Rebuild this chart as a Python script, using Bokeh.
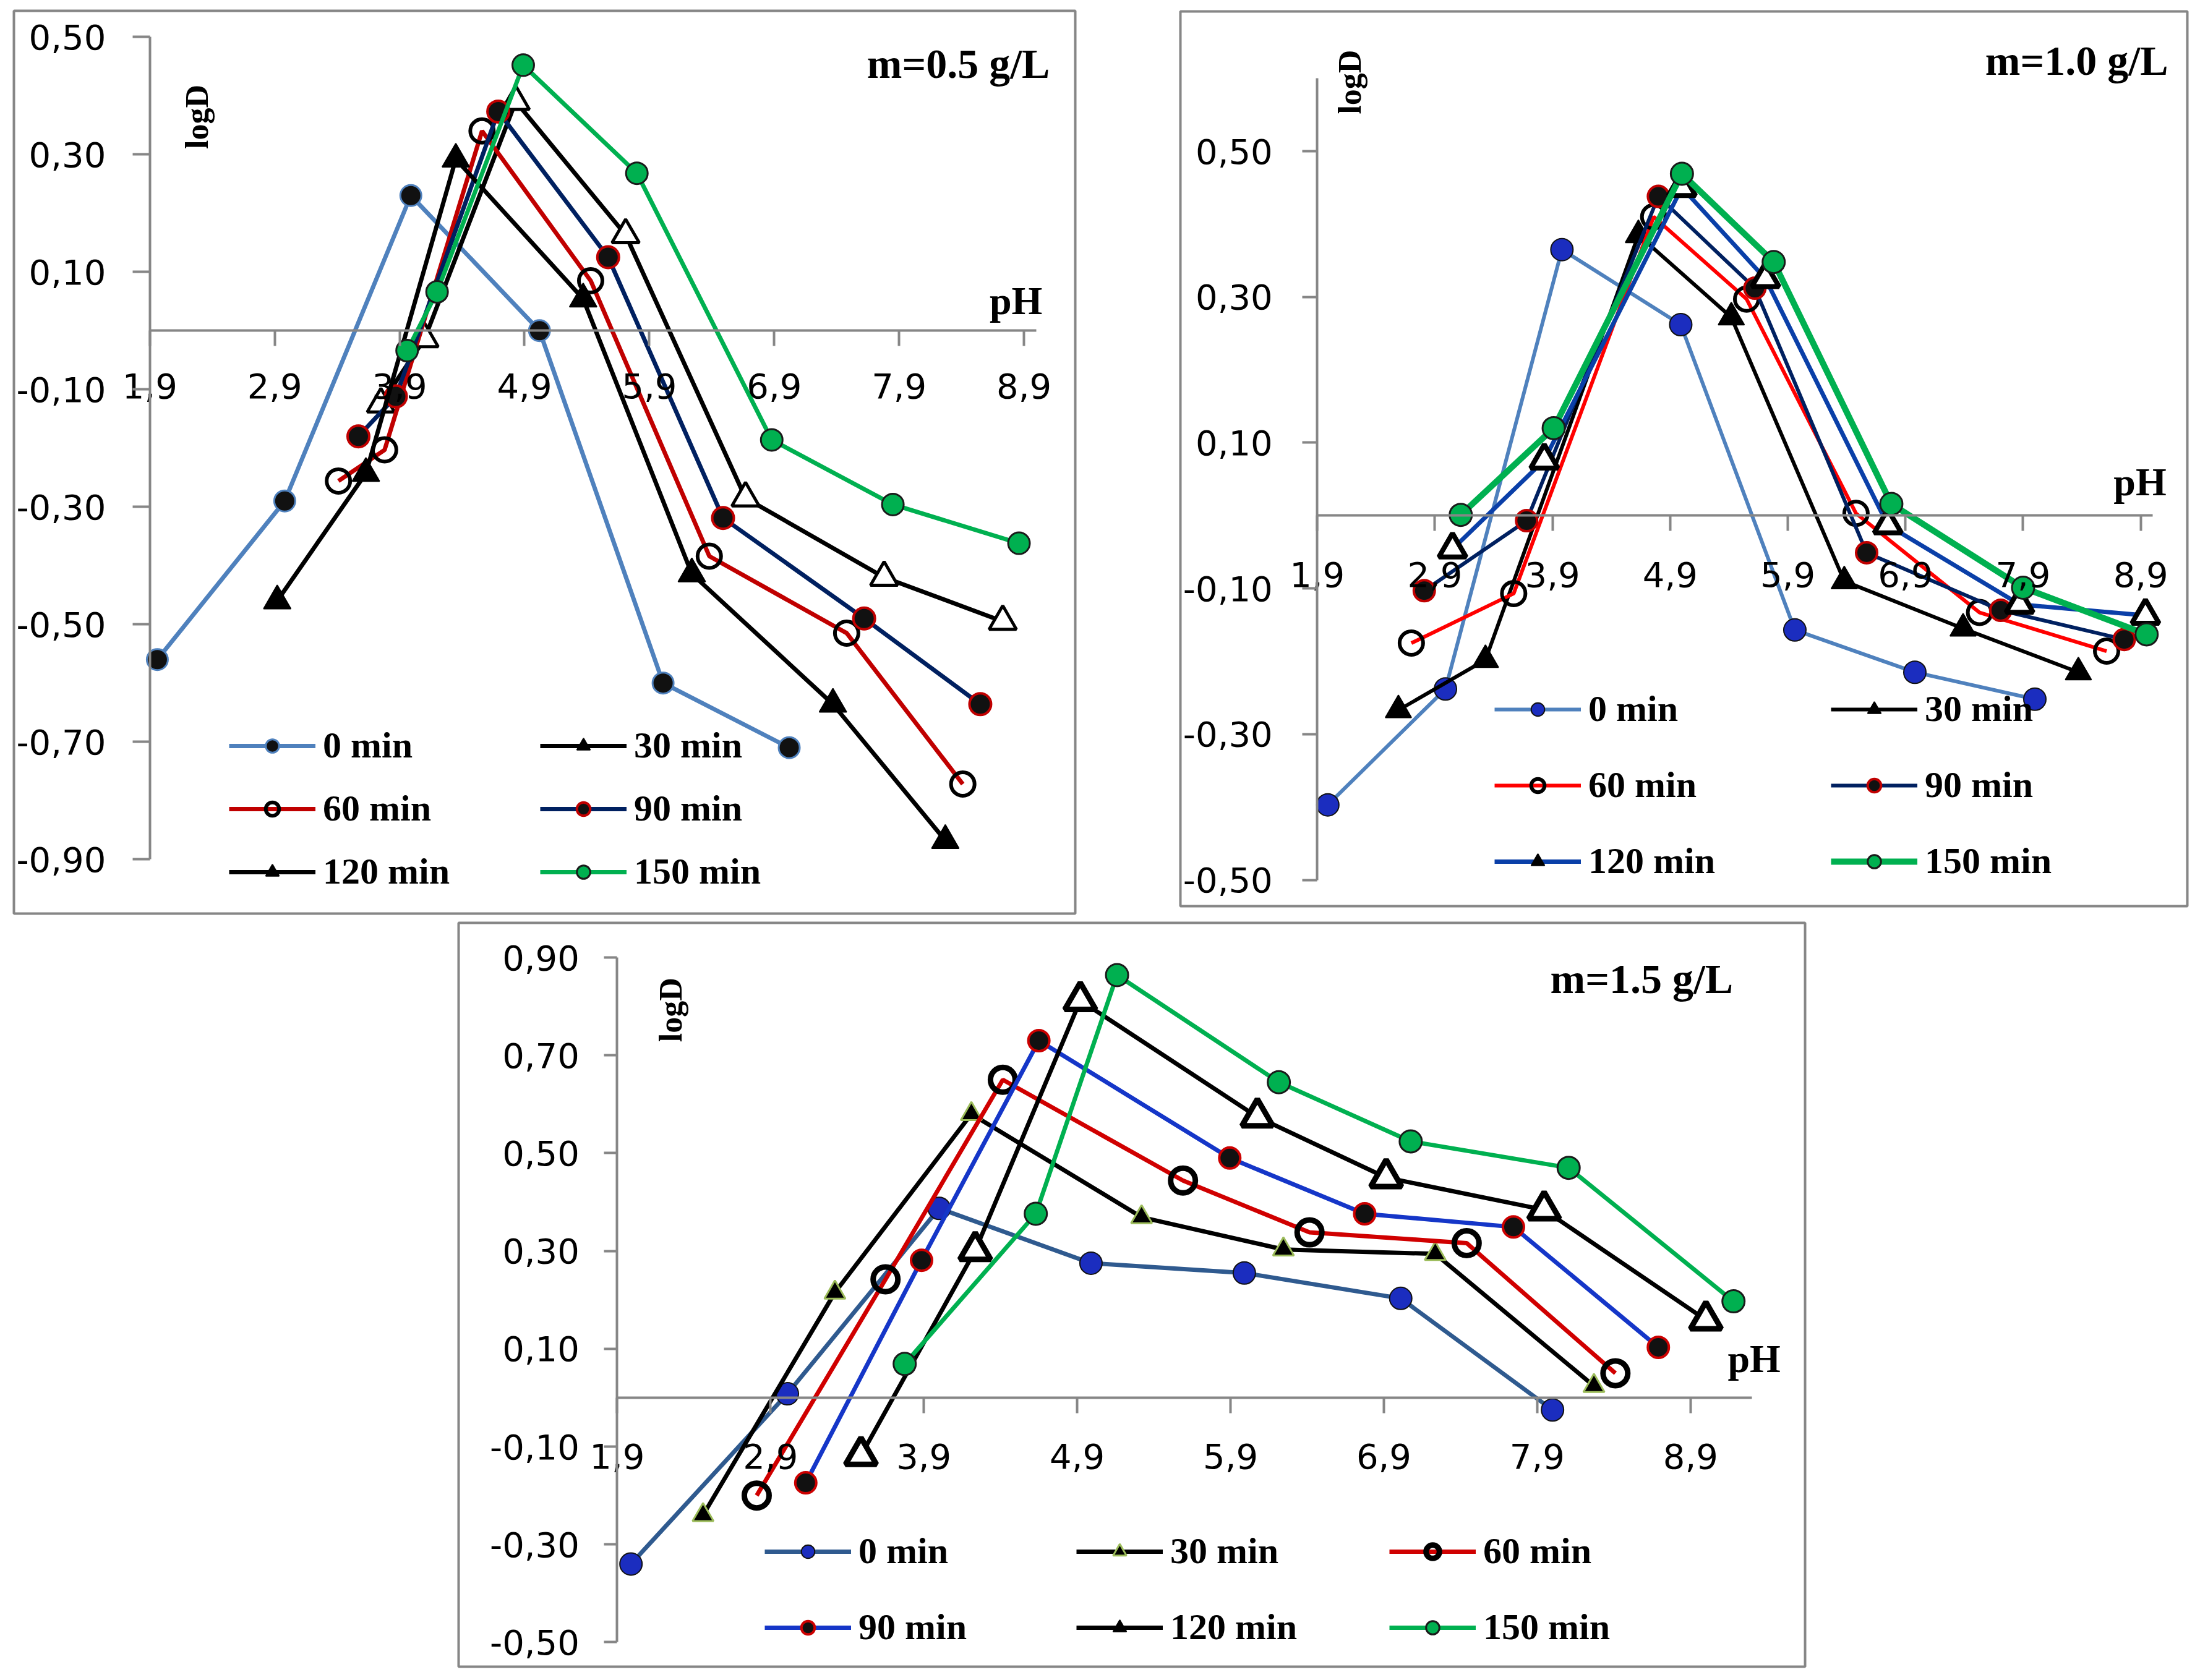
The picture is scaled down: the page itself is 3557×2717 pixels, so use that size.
from bokeh.plotting import figure
from bokeh.models import (Range1d, FixedTicker, CustomJSTickFormatter, Legend,
                          LegendItem, Label, Spacer)
from bokeh.layouts import row, column
from bokeh.embed import file_html
from bokeh.resources import INLINE
import math

# ---------------- data ----------------
times = ["0 min", "30 min", "60 min", "90 min", "120 min", "150 min"]
x_ticks = [1.9, 2.9, 3.9, 4.9, 5.9, 6.9, 7.9, 8.9]
y_ticks_05 = [-0.9, -0.7, -0.5, -0.3, -0.1, 0.1, 0.3, 0.5]
y_ticks_10 = [-0.5, -0.3, -0.1, 0.1, 0.3, 0.5]
y_ticks_15 = [-0.5, -0.3, -0.1, 0.1, 0.3, 0.5, 0.7, 0.9]

# m = 0.5 g/L
ph_05_0 = [1.96, 2.98, 3.99, 5.02, 6.01, 7.02]
logd_05_0 = [-0.56, -0.29, 0.23, 0.00, -0.60, -0.71]
ph_05_30 = [3.75, 4.10, 4.83, 5.71, 6.67, 7.78, 8.73]
logd_05_30 = [-0.125, -0.014, 0.39, 0.163, -0.285, -0.42, -0.495]
ph_05_60 = [3.41, 3.78, 4.56, 5.43, 6.38, 7.48, 8.41]
logd_05_60 = [-0.256, -0.203, 0.34, 0.085, -0.384, -0.515, -0.772]
ph_05_90 = [3.57, 3.87, 4.69, 5.57, 6.49, 7.62, 8.55]
logd_05_90 = [-0.18, -0.112, 0.373, 0.125, -0.319, -0.49, -0.636]
ph_05_120 = [2.92, 3.63, 4.35, 5.37, 6.24, 7.37, 8.27]
logd_05_120 = [-0.46, -0.243, 0.292, 0.054, -0.414, -0.636, -0.868]
ph_05_150 = [3.96, 4.20, 4.89, 5.80, 6.88, 7.85, 8.86]
logd_05_150 = [-0.034, 0.066, 0.452, 0.268, -0.186, -0.296, -0.362]

# m = 1.0 g/L
ph_10_0 = [1.99, 2.99, 3.98, 4.99, 5.96, 6.98, 8.00]
logd_10_0 = [-0.397, -0.238, 0.365, 0.262, -0.157, -0.215, -0.252]
ph_10_30 = [2.59, 3.33, 4.63, 5.42, 6.38, 7.39, 8.37]
logd_10_30 = [-0.267, -0.198, 0.385, 0.272, -0.09, -0.155, -0.215]
ph_10_60 = [2.70, 3.57, 4.76, 5.55, 6.48, 7.53, 8.61]
logd_10_60 = [-0.175, -0.107, 0.41, 0.297, 0.003, -0.133, -0.186]
ph_10_90 = [2.81, 3.68, 4.80, 5.62, 6.57, 7.71, 8.76]
logd_10_90 = [-0.103, -0.007, 0.438, 0.312, -0.051, -0.13, -0.17]
ph_10_120 = [3.05, 3.83, 5.00, 5.71, 6.75, 7.87, 8.94]
logd_10_120 = [-0.046, 0.076, 0.45, 0.325, -0.013, -0.122, -0.137]
ph_10_150 = [3.12, 3.91, 5.00, 5.78, 6.78, 7.90, 8.95]
logd_10_150 = [0.001, 0.12, 0.469, 0.348, 0.016, -0.099, -0.163]

# m = 1.5 g/L
ph_15_0 = [1.99, 3.01, 4.00, 4.99, 5.99, 7.01, 8.00]
logd_15_0 = [-0.34, 0.008, 0.387, 0.275, 0.255, 0.203, -0.025]
ph_15_30 = [2.46, 3.32, 4.21, 5.32, 6.245, 7.235, 8.27]
logd_15_30 = [-0.24, 0.215, 0.58, 0.369, 0.303, 0.294, 0.024]
ph_15_60 = [2.81, 3.65, 4.415, 5.59, 6.415, 7.44, 8.41]
logd_15_60 = [-0.20, 0.242, 0.65, 0.444, 0.338, 0.316, 0.05]
ph_15_90 = [3.13, 3.885, 4.65, 5.895, 6.775, 7.745, 8.69]
logd_15_90 = [-0.174, 0.281, 0.73, 0.49, 0.376, 0.349, 0.103]
ph_15_120 = [3.49, 4.235, 4.92, 6.075, 6.915, 7.945, 9.00]
logd_15_120 = [-0.118, 0.301, 0.812, 0.574, 0.45, 0.384, 0.159]
ph_15_150 = [3.775, 4.63, 5.16, 6.215, 7.075, 8.105, 9.18]
logd_15_150 = [0.069, 0.376, 0.864, 0.645, 0.524, 0.47, 0.197]

titles = ["m=0.5 g/L", "m=1.0 g/L", "m=1.5 g/L"]

# ---------------- styles ----------------
SERIF = "Liberation Serif"
SANS = "DejaVu Sans"
AXIS_GRAY = "#868686"

def st(lc, lw, marker, size, fill, mline, mlw, legfill="same"):
    return dict(lc=lc, lw=lw, marker=marker, size=size, fill=fill, mline=mline,
                mlw=mlw, legfill=legfill)

styles_05 = [
    st("#4f81bd", 7, "circle", 34, "#111111", "#4f81bd", 3),
    st("#000000", 7, "triangle", 44, "#ffffff", "#000000", 5, legfill="#000000"),
    st("#c00000", 7, "circle", 38, None, "#000000", 6),
    st("#002060", 7, "circle", 35, "#111111", "#c00000", 4),
    st("#000000", 7, "triangle", 44, "#000000", "#000000", 2),
    st("#00b050", 7, "circle", 35, "#00b050", "#1a1a1a", 3),
]
styles_10 = [
    st("#4f81bd", 6, "circle", 36, "#1b2dbf", "#111111", 2),
    st("#000000", 6, "triangle", 42, "#000000", "#000000", 2),
    st("#ff0000", 6, "circle", 38, None, "#000000", 6),
    st("#002060", 6, "circle", 34, "#111111", "#c00000", 4),
    st("#0a3fa8", 7, "triangle", 44, "#ffffff", "#000000", 8, legfill="#000000"),
    st("#00b050", 10, "circle", 36, "#00b050", "#1a1a1a", 3),
]
styles_15 = [
    st("#2f5a8f", 7, "circle", 36, "#1b2dbf", "#111111", 2),
    st("#000000", 7, "triangle", 34, "#000000", "#9bbb59", 3),
    st("#d00000", 7, "circle", 40, None, "#000000", 9),
    st("#1536c8", 7, "circle", 34, "#111111", "#cc0000", 4),
    st("#000000", 7, "triangle", 50, "#ffffff", "#000000", 9, legfill="#000000"),
    st("#00b050", 7, "circle", 36, "#00b050", "#1a1a1a", 3),
]


def make_panel(W, H, xr, yr, xb, yb, yticks, series, styles, title, title_xy,
               logd_xy, ph_xy, legend_cols, legend_pos, legend_spacing,
               ytick_out, ystand, xstand, tick_font):
    b = 4
    p = figure(width=W, height=H, x_range=Range1d(*xr), y_range=Range1d(*yr),
               output_backend="svg", toolbar_location=None,
               min_border_left=b, min_border_right=b, min_border_top=b,
               min_border_bottom=b)
    p.outline_line_color = AXIS_GRAY
    p.outline_line_width = 4
    p.xgrid.visible = False
    p.ygrid.visible = False
    p.background_fill_color = "white"
    p.border_fill_color = "white"

    xa = p.xaxis[0]
    ya = p.yaxis[0]
    xa.fixed_location = 0
    ya.fixed_location = 1.9
    xa.bounds = xb
    ya.bounds = yb
    xa.ticker = FixedTicker(ticks=x_ticks, minor_ticks=[])
    ya.ticker = FixedTicker(ticks=yticks, minor_ticks=[])
    xa.formatter = CustomJSTickFormatter(code="return tick.toFixed(1).replace('.', ',');")
    ya.formatter = CustomJSTickFormatter(code="return tick.toFixed(2).replace('.', ',');")
    for ax in (xa, ya):
        ax.axis_line_color = AXIS_GRAY
        ax.axis_line_width = 4
        ax.major_tick_line_color = AXIS_GRAY
        ax.major_tick_line_width = 4
        ax.major_tick_in = 0
        ax.minor_tick_line_color = None
        ax.major_label_text_font = SANS
        ax.major_label_text_font_size = tick_font
        ax.major_label_text_color = "#000000"
    xa.major_tick_out = 25
    ya.major_tick_out = ytick_out
    xa.major_label_standoff = xstand
    ya.major_label_standoff = ystand

    items = {}
    for name, (xs, ys), s in zip(times, series, styles):
        lr = p.line(xs, ys, line_color=s["lc"], line_width=s["lw"])
        if s["fill"] is None:
            sr = p.scatter(xs, ys, marker=s["marker"], size=s["size"],
                           fill_alpha=0, line_color=s["mline"], line_width=s["mlw"])
        else:
            sr = p.scatter(xs, ys, marker=s["marker"], size=s["size"],
                           fill_color=s["fill"], line_color=s["mline"],
                           line_width=s["mlw"])
        leg_r = sr
        if s["legfill"] != "same":
            # legend-only marker (not drawn in the plot: NaN position)
            leg_r = p.scatter([float("nan")], [float("nan")], marker=s["marker"],
                              size=s["size"], fill_color=s["legfill"],
                              line_color=s["mline"], line_width=2)
        items[name] = LegendItem(label=name, renderers=[lr, leg_r])

    for names, loc in zip(legend_cols, legend_pos):
        leg = Legend(items=[items[n] for n in names], location=loc,
                     orientation="vertical", padding=0, margin=0,
                     spacing=legend_spacing, glyph_width=140, glyph_height=54,
                     label_height=54, label_standoff=12,
                     label_text_font=SERIF, label_text_font_style="bold",
                     label_text_font_size="60px", label_text_color="#000000",
                     background_fill_alpha=0, border_line_color=None)
        p.add_layout(leg, "center")

    p.add_layout(Label(x=title_xy[0], y=title_xy[1], text=title,
                       text_font=SERIF, text_font_style="bold",
                       text_font_size="68px", text_align="right",
                       text_baseline="middle", text_color="#000000"))
    p.add_layout(Label(x=logd_xy[0], y=logd_xy[1], text="logD", angle=math.pi / 2,
                       text_font=SERIF, text_font_style="bold",
                       text_font_size="52px", text_align="center",
                       text_baseline="middle", text_color="#000000"))
    p.add_layout(Label(x=ph_xy[0], y=ph_xy[1], text="pH",
                       text_font=SERIF, text_font_style="bold",
                       text_font_size="64px", text_align="center",
                       text_baseline="middle", text_color="#000000"))
    return p


series_05 = [(ph_05_0, logd_05_0), (ph_05_30, logd_05_30), (ph_05_60, logd_05_60),
             (ph_05_90, logd_05_90), (ph_05_120, logd_05_120), (ph_05_150, logd_05_150)]
series_10 = [(ph_10_0, logd_10_0), (ph_10_30, logd_10_30), (ph_10_60, logd_10_60),
             (ph_10_90, logd_10_90), (ph_10_120, logd_10_120), (ph_10_150, logd_10_150)]
series_15 = [(ph_15_0, logd_15_0), (ph_15_30, logd_15_30), (ph_15_60, logd_15_60),
             (ph_15_90, logd_15_90), (ph_15_120, logd_15_120), (ph_15_150, logd_15_150)]

p1 = make_panel(1724, 1468, (0.8114, 9.3106), (-0.9925, 0.5445), (1.9, 9.0), (-0.9, 0.5),
                y_ticks_05, series_05, styles_05, titles[0], (9.107, 0.455),
                (2.275, 0.364), (8.836, 0.051),
                [["0 min", "60 min", "120 min"], ["30 min", "90 min", "150 min"]],
                [(348, 33), (851, 33)], 33, 28, 43, 44, "56px")

p2 = make_panel(1636, 1455, (0.737, 9.296), (-0.536, 0.6918), (1.9, 9.0), (-0.5, 0.6),
                y_ticks_10, series_10, styles_10, titles[1], (9.133, 0.624),
                (2.18, 0.595), (8.894, 0.046),
                [["0 min", "60 min", "120 min"], ["30 min", "90 min", "150 min"]],
                [(508, 38), (1052, 38)], 54, 24, 48, 50, "56px")

p3 = make_panel(2185, 1211, (0.866, 9.647), (-0.550, 0.9708), (1.9, 9.3), (-0.5, 0.9),
                y_ticks_15, series_15, styles_15, titles[2], (9.178, 0.856),
                (2.25, 0.793), (9.315, 0.08),
                [["0 min", "90 min"], ["30 min", "120 min"], ["60 min", "150 min"]],
                [(495, 29), (999, 29), (1505, 29)], 54, 21, 40, 50, "56px")

layout = column(
    Spacer(height=13),
    row(Spacer(width=18), p1, Spacer(width=162), column(Spacer(height=1), p2)),
    Spacer(height=7),
    row(Spacer(width=737), p3),
)

open("out.html", "w").write(file_html(layout, INLINE))
